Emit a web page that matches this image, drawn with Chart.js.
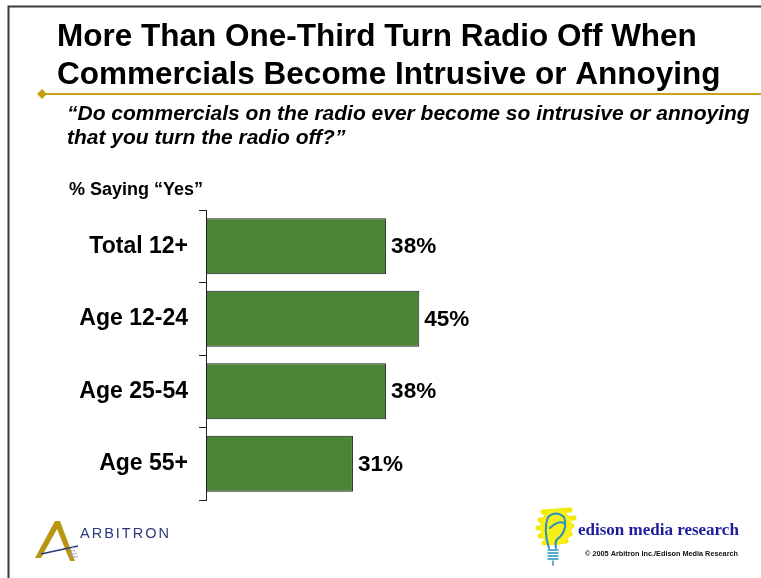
<!DOCTYPE html>
<html>
<head>
<meta charset="utf-8">
<script src="https://cdn.jsdelivr.net/npm/chart.js@4"></script>
<style>
  html, body { margin: 0; padding: 0; background: #fff; }
  #wrap { position: relative; width: 761px; height: 578px; }
</style>
</head>
<body>
<div id="wrap"><canvas id="radioChart" width="761" height="578"></canvas></div>
<script>
// Survey data
const groups = ['Total 12+', 'Age 12-24', 'Age 25-54', 'Age 55+'];
const yesPct = [38, 45, 38, 31];

const FONT = '"Liberation Sans", Arial, Helvetica, sans-serif';

// Slide decoration: frame, headline, question, logos
const slideDecor = {
    id: 'slideDecor',
    beforeDraw(chart) {
        const ctx = chart.ctx;
        ctx.save();
        ctx.fillStyle = '#fff';
        ctx.fillRect(0, 0, chart.width, chart.height);

        // frame
        ctx.strokeStyle = '#3a3a3a';
        ctx.lineWidth = 2;
        ctx.beginPath();
        ctx.moveTo(8.5, 578);
        ctx.lineTo(8.5, 6.5);
        ctx.lineTo(761, 6.5);
        ctx.stroke();

        // headline
        ctx.fillStyle = '#000';
        ctx.textBaseline = 'alphabetic';
        ctx.textAlign = 'left';
        ctx.font = 'bold 31.5px ' + FONT;
        ctx.fillText('More Than One-Third Turn Radio Off When', 57, 46);
        ctx.fillText('Commercials Become Intrusive or Annoying', 57, 84);

        // gold rule with diamond
        ctx.strokeStyle = '#c4a213';
        ctx.lineWidth = 2;
        ctx.beginPath();
        ctx.moveTo(42, 94);
        ctx.lineTo(761, 94);
        ctx.stroke();
        ctx.fillStyle = '#c4a213';
        ctx.beginPath();
        ctx.moveTo(37, 94);
        ctx.lineTo(42, 89);
        ctx.lineTo(47, 94);
        ctx.lineTo(42, 99);
        ctx.closePath();
        ctx.fill();

        // question
        ctx.fillStyle = '#000';
        ctx.font = 'italic bold 21px ' + FONT;
        ctx.fillText('\u201CDo commercials on the radio ever become so intrusive or annoying', 67, 120);
        ctx.fillText('that you turn the radio off?\u201D', 67, 144);

        ctx.font = 'bold 18px ' + FONT;
        ctx.fillText('% Saying \u201CYes\u201D', 69, 195);

        // Arbitron mark
        ctx.fillStyle = '#b8960f';
        ctx.beginPath();
        ctx.moveTo(35, 558);
        ctx.lineTo(55, 521);
        ctx.lineTo(60, 521);
        ctx.lineTo(75, 561);
        ctx.lineTo(70, 561);
        ctx.lineTo(57, 529);
        ctx.lineTo(41, 558);
        ctx.closePath();
        ctx.fill();
        ctx.strokeStyle = '#2d3a78';
        ctx.lineWidth = 1.5;
        ctx.beginPath();
        ctx.moveTo(41, 554);
        ctx.lineTo(78, 546);
        ctx.stroke();
        ctx.fillStyle = '#8f9bc7';
        for (let i = 0; i < 4; i++) {
            for (let j = 0; j <= i; j++) {
                ctx.fillRect(72 + j * 2.5 - i, 547 + i * 3, 1.4, 1.4);
            }
        }
        ctx.fillStyle = '#2d3a78';
        ctx.font = '14.5px ' + FONT;
        if ('letterSpacing' in ctx) ctx.letterSpacing = '2px';
        ctx.fillText('ARBITRON', 80, 538);
        if ('letterSpacing' in ctx) ctx.letterSpacing = '0px';

        // Edison bulb mark
        ctx.strokeStyle = '#f2ea00';
        ctx.lineWidth = 5;
        ctx.lineCap = 'round';
        ctx.beginPath();
        ctx.moveTo(543, 512);
        ctx.lineTo(570, 510);
        ctx.moveTo(540, 520);
        ctx.lineTo(574, 518);
        ctx.moveTo(538, 528);
        ctx.lineTo(572, 526);
        ctx.moveTo(540, 536);
        ctx.lineTo(570, 534);
        ctx.moveTo(544, 543);
        ctx.lineTo(566, 541);
        ctx.stroke();
        ctx.fillStyle = '#f6ef1a';
        ctx.beginPath();
        ctx.ellipse(556, 527, 16, 18, 0, 0, Math.PI * 2);
        ctx.fill();
        ctx.strokeStyle = '#2a8fc0';
        ctx.lineWidth = 2;
        ctx.beginPath();
        ctx.moveTo(549, 548);
        ctx.quadraticCurveTo(543, 530, 548, 517);
        ctx.quadraticCurveTo(556, 510, 564, 517);
        ctx.quadraticCurveTo(568, 528, 560, 537);
        ctx.quadraticCurveTo(554, 540, 556, 548);
        ctx.stroke();
        ctx.beginPath();
        ctx.moveTo(550, 528);
        ctx.quadraticCurveTo(558, 520, 564, 523);
        ctx.stroke();
        ctx.lineWidth = 1.5;
        for (let k = 0; k < 4; k++) {
            ctx.beginPath();
            ctx.moveTo(548, 550 + k * 3);
            ctx.lineTo(558, 550 + k * 3);
            ctx.stroke();
        }
        ctx.beginPath();
        ctx.moveTo(553, 561);
        ctx.lineTo(553, 565);
        ctx.stroke();

        ctx.fillStyle = '#1b1b9c';
        ctx.font = 'bold 17px "Liberation Serif", "Times New Roman", serif';
        ctx.fillText('edison media research', 578, 535);
        ctx.fillStyle = '#111';
        ctx.font = 'bold 7.3px ' + FONT;
        ctx.fillText('\u00A9 2005 Arbitron Inc./Edison Media Research', 585, 556);
        ctx.restore();
    }
};

// Percent labels at the end of each bar
const valueLabels = {
    id: 'valueLabels',
    afterDatasetsDraw(chart) {
        const ctx = chart.ctx;
        const meta = chart.getDatasetMeta(0);
        ctx.save();
        ctx.fillStyle = '#000';
        ctx.font = 'bold 22.5px ' + FONT;
        ctx.textAlign = 'left';
        ctx.textBaseline = 'middle';
        meta.data.forEach((bar, i) => {
            ctx.fillText(yesPct[i] + '%', bar.x + 5, bar.y + 1);
        });
        ctx.restore();
    }
};

const ctx = document.getElementById('radioChart').getContext('2d');
new Chart(ctx, {
    type: 'bar',
    data: {
        labels: groups,
        datasets: [{
            data: yesPct,
            backgroundColor: '#4a8537',
            borderColor: '#1e1e1e',
            borderWidth: 1,
            borderSkipped: false,
            barPercentage: 0.77,
            categoryPercentage: 1
        }]
    },
    options: {
        indexAxis: 'y',
        responsive: false,
        animation: false,
        layout: {
            padding: { top: 210, bottom: 78, left: 0, right: 81 }
        },
        scales: {
            x: {
                display: false,
                min: 0,
                max: 100
            },
            y: {
                afterFit(scale) { scale.width = 206; },
                border: { display: true, color: '#222', width: 1 },
                grid: {
                    drawOnChartArea: false,
                    offset: true,
                    tickLength: 7,
                    color: '#222'
                },
                ticks: {
                    color: '#000',
                    padding: 11,
                    font: { family: FONT, size: 23, weight: 'bold' }
                }
            }
        },
        plugins: {
            legend: { display: false },
            tooltip: { enabled: false },
            title: { display: false }
        }
    },
    plugins: [slideDecor, valueLabels]
});
</script>
</body>
</html>
